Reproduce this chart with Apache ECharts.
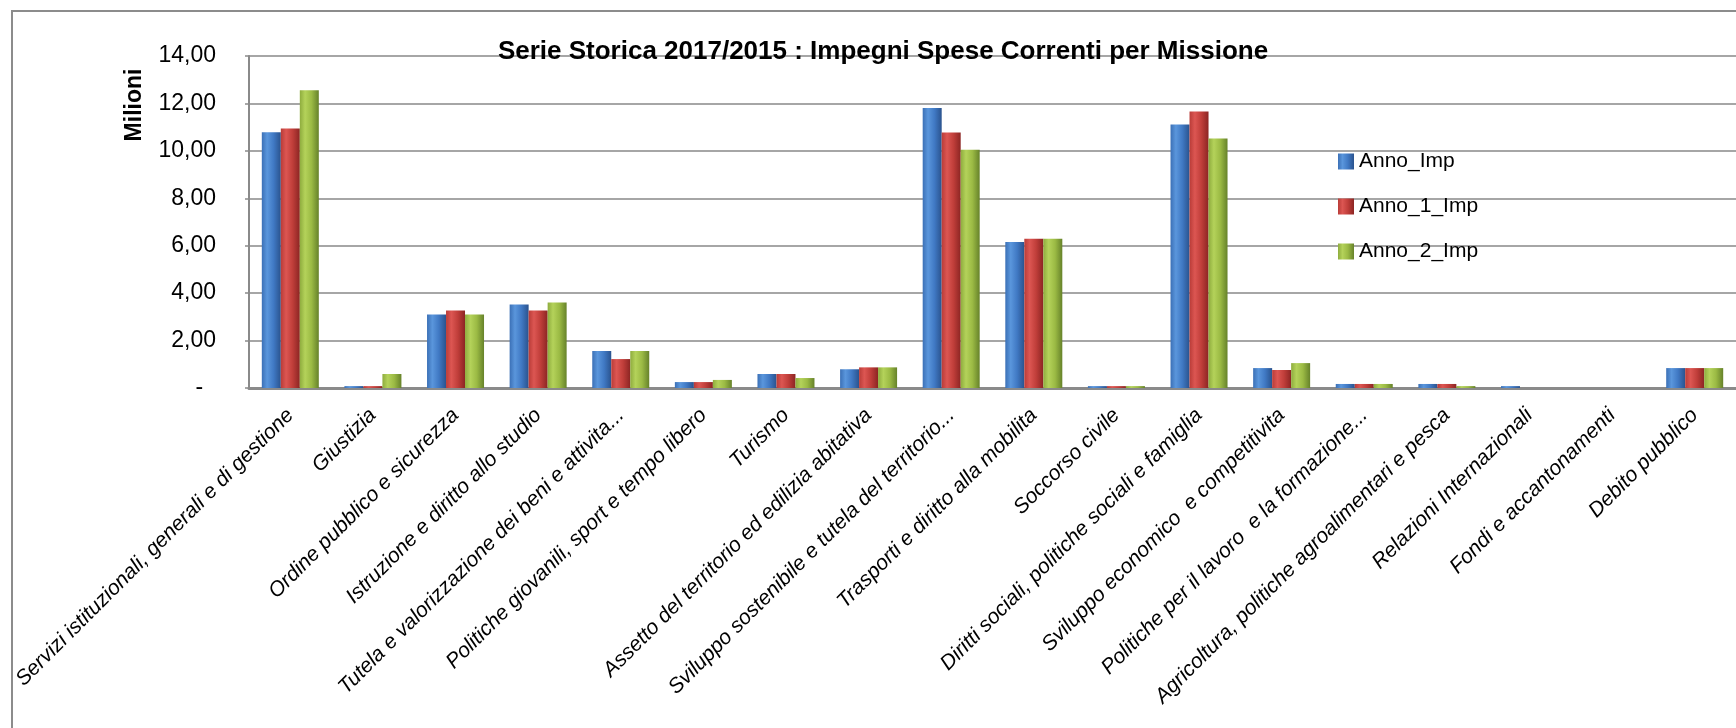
<!DOCTYPE html>
<html>
<head>
<meta charset="utf-8">
<script src="https://cdn.jsdelivr.net/npm/echarts@6/dist/echarts.min.js"></script>
<style>
html,body{margin:0;padding:0;background:#fff;}
#chart{width:1736px;height:728px;}
</style>
</head>
<body>
<div id="chart"></div>
<script>
const categories = [
  "Servizi istituzionali, generali e di gestione",
  "Giustizia",
  "Ordine pubblico e sicurezza",
  "Istruzione e diritto allo studio",
  "Tutela e valorizzazione dei beni e attivita...",
  "Politiche giovanili, sport e tempo libero",
  "Turismo",
  "Assetto del territorio ed edilizia abitativa",
  "Sviluppo sostenibile e tutela del territorio...",
  "Trasporti e diritto alla mobilita",
  "Soccorso civile",
  "Diritti sociali, politiche sociali e famiglia",
  "Sviluppo economico  e competitivita",
  "Politiche per il lavoro  e la formazione...",
  "Agricoltura, politiche agroalimentari e pesca",
  "Relazioni Internazionali",
  "Fondi e accantonamenti",
  "Debito pubblico"
];
const seriesNames = ["Anno_Imp", "Anno_1_Imp", "Anno_2_Imp"];
const annoImp  = [10.78, 0.08, 3.10, 3.52, 1.56, 0.25, 0.59, 0.79, 11.81, 6.16, 0.08, 11.11, 0.84, 0.17, 0.17, 0.08, 0, 0.84];
const anno1Imp = [10.94, 0.08, 3.27, 3.27, 1.22, 0.25, 0.59, 0.87, 10.77, 6.29, 0.08, 11.66, 0.76, 0.17, 0.17, 0, 0, 0.84];
const anno2Imp = [12.56, 0.59, 3.10, 3.61, 1.56, 0.34, 0.42, 0.87, 10.05, 6.29, 0.08, 10.52, 1.05, 0.17, 0.08, 0, 0, 0.84];
const yTicks = {min: 0, max: 14, interval: 2};
const titleText = "Serie Storica 2017/2015 : Impegni Spese Correnti per Missione";
const yName = "Milioni";

const FONT = "'Liberation Sans', Arial, sans-serif";

function grad(c0, c1, c2, c3) {
  return new echarts.graphic.LinearGradient(0, 0, 1, 0, [
    {offset: 0, color: c0},
    {offset: 0.28, color: c1},
    {offset: 0.62, color: c2},
    {offset: 1, color: c3}
  ]);
}
const colors = [
  grad('#3b70b6', '#5a96dc', '#4079c4', '#2a538e'),
  grad('#b93c38', '#dc5652', '#c03e3a', '#8c2523'),
  grad('#8eac3e', '#b4d25a', '#9bba44', '#66822a')
];
const dataSets = [annoImp, anno1Imp, anno2Imp];

const chart = echarts.init(document.getElementById('chart'), null, {renderer: 'canvas'});
chart.setOption({
  animation: false,
  backgroundColor: '#ffffff',
  title: {
    text: titleText,
    left: 883,
    top: 39,
    textAlign: 'center',
    padding: 0,
    textStyle: {fontFamily: FONT, fontWeight: 'bold', fontSize: 26, color: '#000'}
  },
  legend: {
    orient: 'vertical',
    left: 1338,
    top: 151,
    padding: 0,
    itemWidth: 16,
    itemHeight: 16,
    itemGap: 24,
    icon: 'rect',
    textStyle: {fontFamily: FONT, fontSize: 21, lineHeight: 21, color: '#000'},
    data: seriesNames
  },
  graphic: [
    {
      type: 'rect',
      shape: {x: 12, y: 11, width: 1800, height: 800},
      style: {fill: 'none', stroke: '#8c8c8c', lineWidth: 2},
      silent: true,
      z: -1
    },
    {
      type: 'text',
      x: 135,
      y: 105,
      rotation: Math.PI / 2,
      style: {
        text: yName,
        font: "bold 23px " + FONT,
        fill: '#000',
        textAlign: 'center',
        textVerticalAlign: 'middle'
      }
    }
  ],
  grid: {left: 249, top: 56, width: 1493, height: 332, containLabel: false},
  xAxis: {
    type: 'category',
    data: categories,
    axisLine: {show: true, lineStyle: {color: '#8a8a8a', width: 3}},
    axisTick: {show: false},
    axisLabel: {
      interval: 0,
      rotate: 45,
      margin: 24,
      fontFamily: FONT,
      fontStyle: 'italic',
      fontSize: 21,
      color: '#000'
    }
  },
  yAxis: {
    type: 'value',
    min: yTicks.min,
    max: yTicks.max,
    interval: yTicks.interval,
    axisLine: {show: true, lineStyle: {color: '#8a8a8a', width: 2}},
    axisTick: {show: true, length: 4, lineStyle: {color: '#8a8a8a', width: 1.5}},
    splitLine: {show: true, lineStyle: {color: '#a6a6a6', width: 2}},
    axisLabel: {
      margin: 33,
      fontFamily: FONT,
      fontSize: 23,
      color: '#000',
      formatter: function (v) {
        if (v === 0) return '-  ';
        return v.toFixed(2).replace('.', ',');
      }
    }
  },
  series: seriesNames.map(function (name, i) {
    return {
      name: name,
      type: 'bar',
      data: dataSets[i],
      barWidth: 19,
      barGap: '0%',
      itemStyle: {color: colors[i]}
    };
  })
});
</script>
</body>
</html>
